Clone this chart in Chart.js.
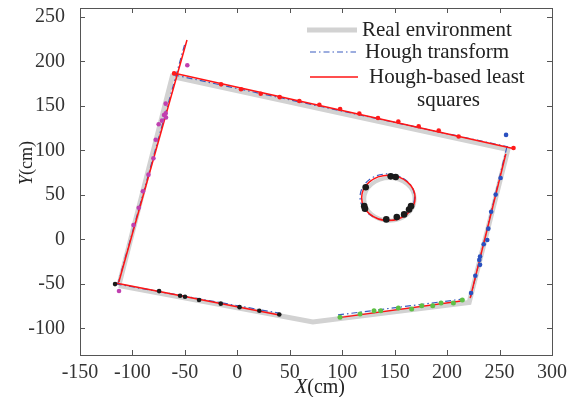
<!DOCTYPE html>
<html>
<head>
<meta charset="utf-8">
<script src="https://cdn.jsdelivr.net/npm/chart.js@4.4.0/dist/chart.umd.min.js"></script>
<style>
html, body { margin: 0; padding: 0; background: #fff; }
</style>
</head>
<body>
<canvas id="c" width="582" height="397"></canvas>
<script>
const X_TICKS = [-150, -100, -50, 0, 50, 100, 150, 200, 250, 300];
const Y_TICKS = [-100, -50, 0, 50, 100, 150, 200, 250];

// real room outline (thick gray)
const realEnv = [[-113, -52], [-62, 183], [258, 101], [221, -71], [72, -93], [-113, -52]];

// fitted wall segments
const houghLines = [
    [[-114, -51], [-50, 220]],
    [[-61, 185], [258, 104]],
    [[257, 104], [222, -67]],
    [[96, -85], [216, -67]],
    [[-116, -50], [40, -83]]
];
const lsqLines = [
    [[-113, -48], [-48, 224]],
    [[-61, 187], [263, 102]],
    [[256, 96], [222, -66]],
    [[97, -88], [215, -69]],
    [[-116, -49], [40, -85]]
];

// circles: [cx, cy, r]
const realCircle = [145, 45, 24];
const houghCircle = [143, 47.5, 26];
const lsqCircle = [144, 46.6, 25.5];

// scan points per wall
const leftWallPts = [[-112.8, -58], [-99, 16], [-94, 35.5], [-90, 54], [-84.7, 72.7], [-80, 91], [-77.8, 112],
    [-75, 129.4], [-71.8, 133.4], [-69.9, 139.8], [-68.3, 141.7], [-68, 137], [-68.3, 152.5], [-47.7, 195.7]];
const topWallPts = [[-60.3, 186.5], [-15.5, 174.2], [3.5, 168.6], [22.3, 163.7], [40.4, 159.8], [59.1, 155.4],
    [78.2, 151.3], [98, 146.4], [116.3, 141.3], [134.1, 136.4], [153.5, 132.3], [172.9, 127.1], [192, 122.3],
    [211, 115.5], [263.3, 102.6]];
const rightWallPts = [[256.2, 117.4], [251, 69], [246.3, 50.3], [242, 31], [239.3, 12], [238.3, -0.7], [234.9, -5.6],
    [231.4, -19.4], [230.7, -23.1], [231.4, -28.7], [226.9, -41], [222.8, -60.4]];
const bottomRightPts = [[97.9, -87.6], [117, -83.9], [130.3, -80.2], [136.7, -80.2], [153.5, -77.2], [166.2, -78.3],
    [175.8, -74.6], [186.3, -74.6], [194.2, -71.6], [206, -71.6], [214.5, -68.2]];
const bottomLeftPts = [[-116.6, -50.3], [-74.6, -58.2], [-54.6, -63.4], [-49.9, -64.5], [-36.5, -68.2],
    [-15.8, -72.3], [2.1, -76.2], [21, -80.2], [40, -84.4]];
const circlePts = [[122.4, 58.5], [121, 37.3], [121.7, 34.3], [142, 22.4], [152, 25], [159, 28], [163.7, 33.6],
    [165.6, 37.3], [146.2, 70.8], [151, 70.1]];

const GRAY = '#d2d2d2';
const BLUE = '#3a5cc0';
const RED = '#ff1414';
const SERIF = '"Liberation Serif", "Times New Roman", serif';
const HOUGH_DASH = [6, 3, 1.5, 3];

function pts(arr) {
    return arr.map(p => ({ x: p[0], y: p[1] }));
}

const datasets = [];
datasets.push({ data: pts(realEnv), showLine: true, borderColor: GRAY, borderWidth: 5, pointRadius: 0, order: 4 });
houghLines.forEach(seg => {
    datasets.push({ data: pts(seg), showLine: true, borderColor: BLUE, borderWidth: 1.2, borderDash: HOUGH_DASH, pointRadius: 0, order: 3 });
});
lsqLines.forEach(seg => {
    datasets.push({ data: pts(seg), showLine: true, borderColor: RED, borderWidth: 1.5, pointRadius: 0, order: 2 });
});
const pointSets = [
    [leftWallPts, '#c040b0', 2.3],
    [topWallPts, '#ff1a1a', 2.3],
    [rightWallPts, '#2a50c0', 2.3],
    [bottomRightPts, '#5ec045', 2.5],
    [bottomLeftPts, '#1a1a1a', 2.3],
    [circlePts, '#1a1a1a', 3.3]
];
pointSets.forEach(([arr, color, r]) => {
    datasets.push({ data: pts(arr), showLine: false, backgroundColor: color, borderColor: color, borderWidth: 0, pointRadius: r, order: 1 });
});

function drawCircle(chart, c, color, width, dash) {
    const { ctx, scales: { x, y } } = chart;
    const px = x.getPixelForValue(c[0]);
    const py = y.getPixelForValue(c[1]);
    const rx = Math.abs(x.getPixelForValue(c[0] + c[2]) - px);
    const ry = Math.abs(y.getPixelForValue(c[1] + c[2]) - py);
    ctx.save();
    ctx.strokeStyle = color;
    ctx.lineWidth = width;
    ctx.setLineDash(dash || []);
    ctx.beginPath();
    ctx.ellipse(px, py, rx, ry, 0, 0, Math.PI * 2);
    ctx.stroke();
    ctx.restore();
}

const circlePlugin = {
    id: 'circles',
    beforeDatasetsDraw(chart) {
        drawCircle(chart, realCircle, GRAY, 4);
        drawCircle(chart, houghCircle, BLUE, 1.2, HOUGH_DASH);
        drawCircle(chart, lsqCircle, RED, 1.5);
    }
};

const framePlugin = {
    id: 'frame',
    afterDraw(chart) {
        const { ctx, chartArea: a, scales: { x, y } } = chart;
        ctx.save();
        ctx.strokeStyle = '#555';
        ctx.lineWidth = 1;
        ctx.strokeRect(a.left + 0.5, a.top + 0.5, a.right - a.left, a.bottom - a.top);
        ctx.beginPath();
        X_TICKS.forEach(v => {
            const p = Math.round(x.getPixelForValue(v)) + 0.5;
            ctx.moveTo(p, a.bottom); ctx.lineTo(p, a.bottom - 5);
            ctx.moveTo(p, a.top); ctx.lineTo(p, a.top + 5);
        });
        Y_TICKS.forEach(v => {
            const p = Math.round(y.getPixelForValue(v)) + 0.5;
            ctx.moveTo(a.left, p); ctx.lineTo(a.left + 5, p);
            ctx.moveTo(a.right, p); ctx.lineTo(a.right - 5, p);
        });
        ctx.stroke();

        // axis titles with italic variable
        ctx.fillStyle = '#222';
        ctx.textBaseline = 'middle';
        ctx.font = 'italic 20px ' + SERIF;
        const wX = ctx.measureText('X').width;
        ctx.font = '20px ' + SERIF;
        const wCm = ctx.measureText('(cm)').width;
        let sx = 320 - (wX + wCm) / 2;
        ctx.font = 'italic 20px ' + SERIF;
        ctx.fillText('X', sx, 388);
        ctx.font = '20px ' + SERIF;
        ctx.fillText('(cm)', sx + wX, 388);

        ctx.save();
        ctx.translate(27, 163);
        ctx.rotate(-Math.PI / 2);
        ctx.font = 'italic 18px ' + SERIF;
        const wY = ctx.measureText('Y').width;
        ctx.font = '18px ' + SERIF;
        const wCm2 = ctx.measureText('(cm)').width;
        sx = -(wY + wCm2) / 2;
        ctx.font = 'italic 18px ' + SERIF;
        ctx.fillText('Y', sx, 0);
        ctx.font = '18px ' + SERIF;
        ctx.fillText('(cm)', sx + wY, 0);
        ctx.restore();

        // legend
        ctx.font = '21px ' + SERIF;
        ctx.lineCap = 'butt';
        ctx.strokeStyle = GRAY; ctx.lineWidth = 5;
        ctx.beginPath(); ctx.moveTo(307, 30); ctx.lineTo(357, 30); ctx.stroke();
        ctx.strokeStyle = BLUE; ctx.lineWidth = 1.2; ctx.setLineDash(HOUGH_DASH);
        ctx.beginPath(); ctx.moveTo(310, 52); ctx.lineTo(356, 52); ctx.stroke();
        ctx.setLineDash([]);
        ctx.strokeStyle = RED; ctx.lineWidth = 1.5;
        ctx.beginPath(); ctx.moveTo(310, 77); ctx.lineTo(358, 77); ctx.stroke();
        ctx.fillStyle = '#222';
        ctx.fillText('Real environment', 362, 30);
        ctx.fillText('Hough transform', 365, 52);
        ctx.fillText('Hough-based least', 369, 77);
        ctx.fillText('squares', 417, 100);
        ctx.restore();
    }
};

function fixY(scale) {
    scale.width = 80;
    scale.paddingTop = 0; scale.paddingBottom = 0;
}
function fixX(scale) {
    scale.height = 42;
    scale.paddingLeft = 0; scale.paddingRight = 0;
}

new Chart(document.getElementById('c'), {
    type: 'scatter',
    data: { datasets: datasets },
    options: {
        responsive: false,
        animation: false,
        layout: { padding: { top: 8, right: 30, left: 0, bottom: 0 } },
        plugins: { legend: { display: false }, tooltip: { enabled: false } },
        scales: {
            x: {
                type: 'linear', min: -150, max: 300,
                afterBuildTicks: s => { s.ticks = X_TICKS.map(v => ({ value: v })); },
                afterFit: fixX,
                grid: { display: false }, border: { display: false },
                ticks: { font: { family: SERIF, size: 20 }, color: '#333', padding: -2, maxRotation: 0, autoSkip: false }
            },
            y: {
                type: 'linear', min: -130, max: 260,
                afterBuildTicks: s => { s.ticks = Y_TICKS.map(v => ({ value: v })); },
                afterFit: fixY,
                grid: { display: false }, border: { display: false },
                ticks: { font: { family: SERIF, size: 20 }, color: '#333', padding: 7, autoSkip: false }
            }
        }
    },
    plugins: [circlePlugin, framePlugin]
});
</script>
</body>
</html>
